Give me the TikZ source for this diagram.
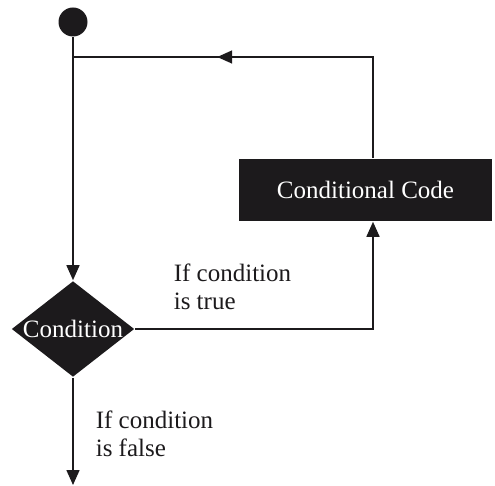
\documentclass[tikz,border=0pt]{standalone}
\usepackage{fontspec}
\setmainfont{Liberation Serif}
\usetikzlibrary{shapes.geometric,arrows.meta,decorations.markings}
\definecolor{ink}{RGB}{28,26,28}

\begin{document}
\begin{tikzpicture}[x=1pt, y=-1pt, line width=1.6pt, color=ink,
    font=\fontsize{25}{28}\selectfont,
    flow/.style = {draw, -{Triangle[length=15pt,width=13pt]}},
    back/.style = {draw, postaction={decorate}, decoration={markings,
        mark=at position 257pt with {\arrow{Triangle[length=15pt,width=13pt]}}}},
    block/.style = {fill=ink, text=white, minimum width=253pt, minimum height=62pt},
    test/.style = {diamond, fill=ink, text=white, aspect=1.3, inner sep=0pt,
        minimum width=121pt, minimum height=96pt},
    note/.style = {anchor=north west, inner sep=0pt, align=left}]
    \useasboundingbox (0,0) rectangle (495,486);
    \node[circle, fill, inner sep=0pt, minimum size=29pt] (start) at (73,22) {};
    \node[test] (cond) at (73,329) {Condition};
    \node[block] (code) at (365.5,190) {Conditional Code};
    \coordinate (turn) at (373,57);
    \coordinate (stop) at (73,485);
    \draw[flow] (start) -- (cond);
    \draw[back] (code.north -| turn) -- (turn) -- (start |- turn);
    \draw[flow] (cond) -| (code.south -| turn);
    \draw[flow] (cond) -- (stop);
    \node[note] (yes) at (173,263) {If condition\\is true};
    \node[note] (no) at (95,410) {If condition\\is false};
\end{tikzpicture}
\end{document}
